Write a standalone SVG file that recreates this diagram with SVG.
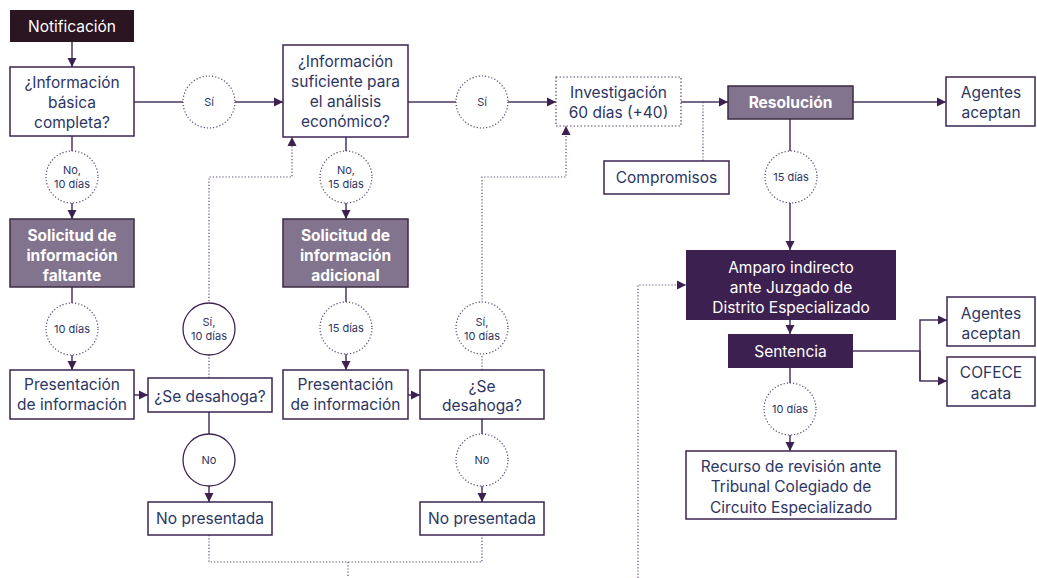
<svg xmlns="http://www.w3.org/2000/svg" width="1037" height="578" viewBox="0 0 1037 578">
<style>
text{font-family:Inter,"Noto Sans",sans-serif;text-anchor:middle;dominant-baseline:central}
.t{font-size:15.5px;fill:#2d3563}
.w{font-size:15.5px;fill:#ffffff}
.b{font-size:15.5px;fill:#ffffff;font-weight:700}
.s{font-size:11px;fill:#2d3563}
.box{fill:#ffffff;stroke:#3d2552;stroke-width:1.5}
.dbox{fill:#ffffff;stroke:#5a4870;stroke-width:1.2;stroke-dasharray:1.5 2}
.grey{fill:#82748f;stroke:#3a2a40;stroke-width:1.5}
.dark{fill:#3c2150}
.c{fill:#ffffff;stroke:#3d2552;stroke-width:1.3}
.dc{fill:#ffffff;stroke:#5a4870;stroke-width:1.2;stroke-dasharray:1.2 2}
.ln{fill:none;stroke:#4a3560;stroke-width:1.5}
.dl{fill:none;stroke:#5a4870;stroke-width:1.2;stroke-dasharray:1.2 2}
</style>
<defs>
<marker id="ah" viewBox="0 0 10 10" refX="10" refY="5" markerWidth="9" markerHeight="10" markerUnits="userSpaceOnUse" orient="auto">
<path d="M0,0 L10,5 L0,10 Z" fill="#3c2150"/>
</marker>
</defs>
<g id="connectors">
<path class="ln" d="M72,42 V67" marker-end="url(#ah)"/>
<path class="ln" d="M134,102 H283" marker-end="url(#ah)"/>
<path class="ln" d="M72,136 V219" marker-end="url(#ah)"/>
<path class="ln" d="M72,287 V370" marker-end="url(#ah)"/>
<path class="ln" d="M134,395 H148" marker-end="url(#ah)"/>
<path class="ln" d="M209,412 V502" marker-end="url(#ah)"/>
<path class="dl" d="M209,378 V177 H292 V137" marker-end="url(#ah)"/>
<path class="ln" d="M408,102 H556" marker-end="url(#ah)"/>
<path class="ln" d="M346,137 V219" marker-end="url(#ah)"/>
<path class="ln" d="M346,287 V370" marker-end="url(#ah)"/>
<path class="ln" d="M408,395 H420" marker-end="url(#ah)"/>
<path class="ln" d="M482,419 V502" marker-end="url(#ah)"/>
<path class="dl" d="M482,370 V177 H566 V126" marker-end="url(#ah)"/>
<path class="dl" d="M209,535 V562 H482 V535"/>
<path class="dl" d="M348,562 V578"/>
<path class="dl" d="M638,578 V285 H686" marker-end="url(#ah)"/>
<path class="ln" d="M681,102 H728" marker-end="url(#ah)"/>
<path class="dl" d="M703,102 V161"/>
<path class="ln" d="M853,102 H946" marker-end="url(#ah)"/>
<path class="ln" d="M790,119 V250" marker-end="url(#ah)"/>
<path class="ln" d="M790,320 V334" marker-end="url(#ah)"/>
<path class="ln" d="M853,351 H920"/>
<path class="ln" d="M920,381 V320 H947" marker-end="url(#ah)"/>
<path class="ln" d="M920,351 V381 H947" marker-end="url(#ah)"/>
<path class="ln" d="M790,368 V451" marker-end="url(#ah)"/>
</g>
<g id="n-notificacion"><rect x="10" y="10" width="124" height="32" fill="#2a1520"/><text class="w" x="72" y="26">Notificación</text></g>
<g id="n-basica"><rect class="box" x="10" y="67" width="124" height="69"/><text class="t" x="72" y="82">¿Información</text><text class="t" x="72" y="102">básica</text><text class="t" x="72" y="122">completa?</text></g>
<g id="c-si1"><circle class="dc" cx="209" cy="102" r="26"/><text class="s" x="209" y="102">Sí</text></g>
<g id="c-no10"><circle class="dc" cx="72" cy="177" r="26"/><text class="s" x="72" y="170">No,</text><text class="s" x="72" y="184">10 días</text></g>
<g id="n-sol-faltante"><rect class="grey" x="10" y="219" width="124" height="68"/><text class="b" x="72" y="235">Solicitud de</text><text class="b" x="72" y="255">información</text><text class="b" x="72" y="275">faltante</text></g>
<g id="c-10d"><circle class="dc" cx="72" cy="329" r="26"/><text class="s" x="72" y="329">10 días</text></g>
<g id="n-pres1"><rect class="box" x="10" y="370" width="124" height="49"/><text class="t" x="72" y="384">Presentación</text><text class="t" x="72" y="404">de información</text></g>
<g id="n-desahoga1"><rect class="box" x="148" y="378" width="124" height="34"/><text class="t" x="210" y="396">¿Se desahoga?</text></g>
<g id="c-si10-1"><circle class="c" cx="209" cy="329" r="26"/><text class="s" x="209" y="322">Sí,</text><text class="s" x="209" y="336">10 días</text></g>
<g id="c-no1"><circle class="c" cx="209" cy="460" r="26"/><text class="s" x="209" y="460">No</text></g>
<g id="n-nopres1"><rect class="box" x="148" y="502" width="124" height="33"/><text class="t" x="210" y="518">No presentada</text></g>
<g id="n-suficiente"><rect class="box" x="283" y="45" width="125" height="92"/><text class="t" x="345.5" y="61">¿Información</text><text class="t" x="345.5" y="81">suficiente para</text><text class="t" x="345.5" y="101">el análisis</text><text class="t" x="345.5" y="121">económico?</text></g>
<g id="c-si2"><circle class="dc" cx="482" cy="102" r="26"/><text class="s" x="482" y="102">Sí</text></g>
<g id="c-no15"><circle class="dc" cx="346" cy="177" r="26"/><text class="s" x="346" y="170">No,</text><text class="s" x="346" y="184">15 días</text></g>
<g id="n-sol-adicional"><rect class="grey" x="283" y="219" width="125" height="68"/><text class="b" x="345.5" y="235">Solicitud de</text><text class="b" x="345.5" y="255">información</text><text class="b" x="345.5" y="275">adicional</text></g>
<g id="c-15d"><circle class="dc" cx="346" cy="328" r="26"/><text class="s" x="346" y="328">15 días</text></g>
<g id="n-pres2"><rect class="box" x="283" y="370" width="125" height="49"/><text class="t" x="345.5" y="384">Presentación</text><text class="t" x="345.5" y="404">de información</text></g>
<g id="n-desahoga2"><rect class="box" x="420" y="370" width="124" height="49"/><text class="t" x="482" y="386">¿Se</text><text class="t" x="482" y="405">desahoga?</text></g>
<g id="c-si10-2"><circle class="dc" cx="482" cy="328" r="26"/><text class="s" x="482" y="322">Sí,</text><text class="s" x="482" y="336">10 días</text></g>
<g id="c-no2"><circle class="dc" cx="482" cy="460" r="26"/><text class="s" x="482" y="460">No</text></g>
<g id="n-nopres2"><rect class="box" x="420" y="502" width="124" height="33"/><text class="t" x="482" y="518">No presentada</text></g>
<g id="n-investigacion"><rect class="dbox" x="556" y="77" width="125" height="49"/><text class="t" x="618.5" y="92">Investigación</text><text class="t" x="618.5" y="112">60 días (+40)</text></g>
<g id="n-compromisos"><rect class="box" x="604" y="161" width="125" height="33"/><text class="t" x="666.5" y="177">Compromisos</text></g>
<g id="n-resolucion"><rect class="grey" x="728" y="86" width="125" height="33"/><text class="b" x="790.5" y="102">Resolución</text></g>
<g id="n-agentes1"><rect class="box" x="946" y="77" width="89" height="49"/><text class="t" x="991" y="92">Agentes</text><text class="t" x="991" y="112">aceptan</text></g>
<g id="c-15d-b"><circle class="dc" cx="791" cy="177" r="26"/><text class="s" x="791" y="177">15 días</text></g>
<g id="n-amparo"><rect class="dark" x="686" y="250" width="210" height="70"/><text class="w" x="791" y="267">Amparo indirecto</text><text class="w" x="791" y="287">ante Juzgado de</text><text class="w" x="791" y="307">Distrito Especializado</text></g>
<g id="n-sentencia"><rect class="dark" x="728" y="334" width="125" height="34"/><text class="w" x="790.5" y="351">Sentencia</text></g>
<g id="n-agentes2"><rect class="box" x="947" y="297" width="88" height="49"/><text class="t" x="991" y="313">Agentes</text><text class="t" x="991" y="333">aceptan</text></g>
<g id="n-cofece"><rect class="box" x="947" y="357" width="88" height="49"/><text class="t" x="991" y="372">COFECE</text><text class="t" x="991" y="393">acata</text></g>
<g id="c-10d-b"><circle class="dc" cx="790" cy="409" r="26"/><text class="s" x="790" y="409">10 días</text></g>
<g id="n-recurso"><rect class="box" x="686" y="451" width="210" height="68"/><text class="t" x="791" y="466">Recurso de revisión ante</text><text class="t" x="791" y="486">Tribunal Colegiado de</text><text class="t" x="791" y="507">Circuito Especializado</text></g>
</svg>
